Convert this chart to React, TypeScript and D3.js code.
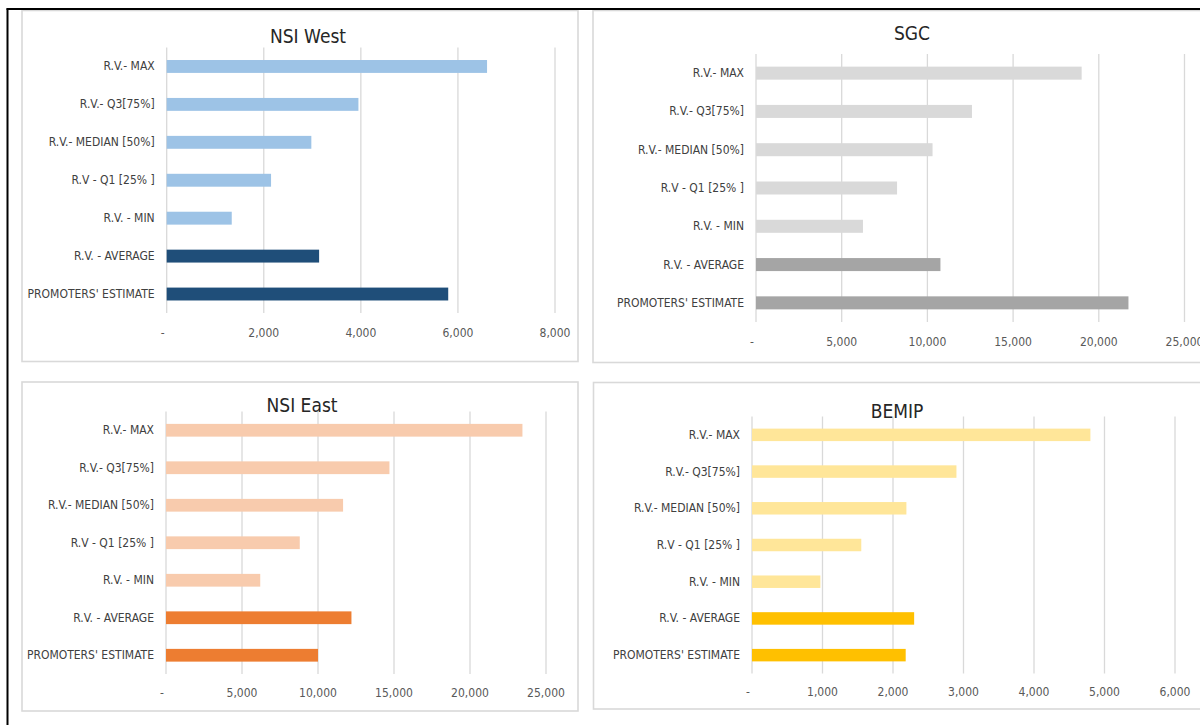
import React, {FC} from "react";
import * as d3 from "d3";

const categories = [
    "R.V.- MAX",
    "R.V.- Q3[75%]",
    "R.V.- MEDIAN [50%]",
    "R.V - Q1 [25% ]",
    "R.V. - MIN",
    "R.V. - AVERAGE",
    "PROMOTERS' ESTIMATE",
];
const darkCategories = ["R.V. - AVERAGE", "PROMOTERS' ESTIMATE"];

const nsiWestValues = [6600, 3950, 2980, 2150, 1340, 3140, 5800];
const sgcValues = [19000, 12600, 10300, 8230, 6240, 10760, 21730];
const nsiEastValues = [23450, 14700, 11650, 8800, 6200, 12200, 10000];
const bemipValues = [4800, 2900, 2190, 1550, 970, 2300, 2180];

const nsiWestTicks = [0, 2000, 4000, 6000, 8000];
const sgcTicks = [0, 5000, 10000, 15000, 20000, 25000];
const nsiEastTicks = [0, 5000, 10000, 15000, 20000, 25000];
const bemipTicks = [0, 1000, 2000, 3000, 4000, 5000, 6000];

const FONT = "'Liberation Sans Narrow', 'DejaVu Sans Condensed', 'Arial Narrow', Roboto, sans-serif";

interface PanelProps {
    title: string;
    values: number[];
    ticks: number[];
    light: string;
    dark: string;
    box: {x: number; y: number; w: number; h: number};
    plot: {x0: number; x1: number; y0: number; y1: number};
    titlePos: {x: number; y: number};
    tickY: number;
}

const fmt = d3.format(",");

const Panel: FC<PanelProps> = ({title, values, ticks, light, dark, box, plot, titlePos, tickY}) => {
    const xScale = d3
        .scaleLinear()
        .domain([0, d3.max(ticks) as number])
        .range([plot.x0, plot.x1]);

    const yScale = d3
        .scaleBand<string>()
        .domain(categories)
        .range([plot.y0, plot.y1])
        .paddingInner(0.66)
        .paddingOuter(0.33);

    return (
        <g>
            <rect x={box.x} y={box.y} width={box.w} height={box.h}
                  fill="#ffffff" stroke="#d9d9d9" strokeWidth={1.6}/>
            {ticks.map(t => (
                <line key={"g" + t} x1={xScale(t)} x2={xScale(t)} y1={plot.y0} y2={plot.y1}
                      stroke="#d9d9d9" strokeWidth={1.3}/>
            ))}
            {categories.map((c, i) => (
                <rect key={c}
                      x={xScale(0)}
                      y={yScale(c)}
                      width={xScale(values[i]) - xScale(0)}
                      height={yScale.bandwidth()}
                      fill={darkCategories.includes(c) ? dark : light}/>
            ))}
            {categories.map(c => (
                <text key={"l" + c} x={xScale(0) - 12} y={(yScale(c) as number) + yScale.bandwidth() / 2}
                      textAnchor="end" dominantBaseline="central"
                      fontFamily={FONT} fontSize={12} fill="#404040">
                    {c}
                </text>
            ))}
            {ticks.map(t => (
                <text key={"t" + t} x={xScale(t) - (t === 0 ? 4 : 0)} y={tickY}
                      textAnchor="middle" dominantBaseline="central"
                      fontFamily={FONT} fontSize={12} fill="#595959">
                    {t === 0 ? "-" : fmt(t)}
                </text>
            ))}
            <text x={titlePos.x} y={titlePos.y} textAnchor="middle" dominantBaseline="central"
                  fontFamily={FONT} fontSize={19} fill="#262626">
                {title}
            </text>
        </g>
    );
};

export default function App() {
    return (
        <svg width={1200} height={725}
             style={{position: "absolute", left: 0, top: 0, background: "#ffffff"}}>
            <Panel title="NSI West" values={nsiWestValues} ticks={nsiWestTicks}
                   light="#9dc3e6" dark="#1f4e79"
                   box={{x: 22, y: 10.5, w: 556, h: 351}}
                   plot={{x0: 166.7, x1: 555, y0: 47.5, y1: 313}}
                   titlePos={{x: 308, y: 36}} tickY={333}/>
            <Panel title="SGC" values={sgcValues} ticks={sgcTicks}
                   light="#d9d9d9" dark="#a5a5a5"
                   box={{x: 593, y: 10.5, w: 640, h: 352}}
                   plot={{x0: 756, x1: 1184.5, y0: 54, y1: 322}}
                   titlePos={{x: 912, y: 33}} tickY={342}/>
            <Panel title="NSI East" values={nsiEastValues} ticks={nsiEastTicks}
                   light="#f8cbad" dark="#ed7d31"
                   box={{x: 22, y: 382, w: 556, h: 329}}
                   plot={{x0: 166, x1: 546, y0: 411.5, y1: 674}}
                   titlePos={{x: 302, y: 405}} tickY={693}/>
            <Panel title="BEMIP" values={bemipValues} ticks={bemipTicks}
                   light="#ffe699" dark="#ffc000"
                   box={{x: 593.5, y: 382.5, w: 640, h: 326.5}}
                   plot={{x0: 752, x1: 1175, y0: 416.5, y1: 673.5}}
                   titlePos={{x: 897, y: 411}} tickY={692}/>
            <line x1={7.5} x2={7.5} y1={8.5} y2={725} stroke="#000000" strokeWidth={2}/>
            <line x1={6.5} x2={1200} y1={9} y2={9} stroke="#000000" strokeWidth={2}/>
        </svg>
    );
}
